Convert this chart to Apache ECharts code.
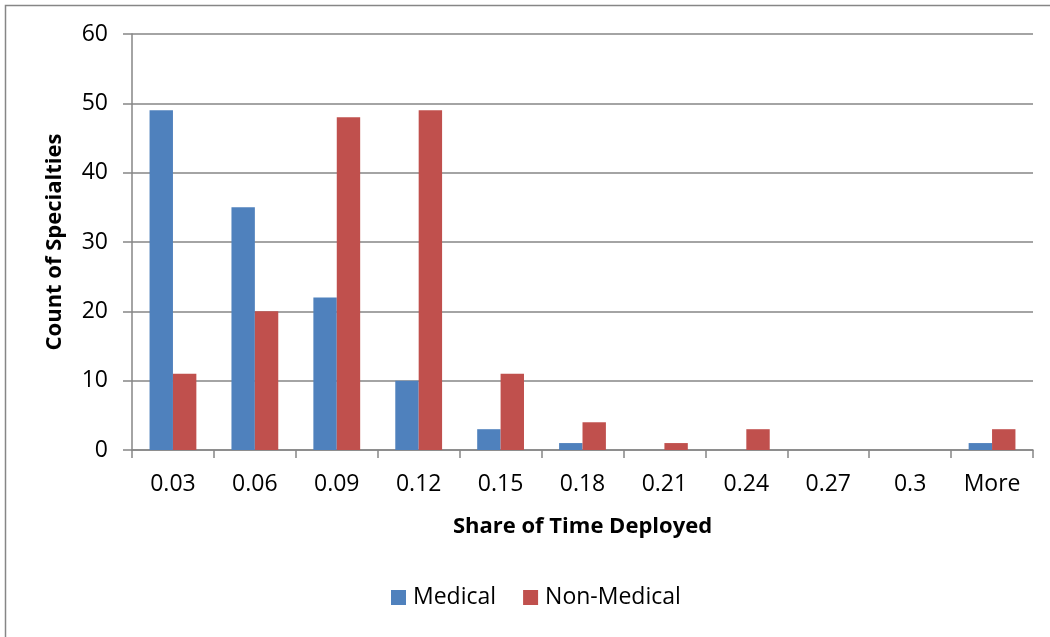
<!DOCTYPE html>
<html>
<head>
<meta charset="utf-8">
<script src="https://cdn.jsdelivr.net/npm/echarts@6/dist/echarts.min.js"></script>
<style>
html,body{margin:0;padding:0;background:#fff;}
#chart{width:1050px;height:637px;}
</style>
</head>
<body>
<div id="chart"></div>
<script>
const categories = ['0.03','0.06','0.09','0.12','0.15','0.18','0.21','0.24','0.27','0.3','More'];
const medical = [49, 35, 22, 10, 3, 1, 0, 0, 0, 0, 1];
const nonMedical = [11, 20, 48, 49, 11, 4, 1, 3, 0, 0, 3];
const yTicks = { min: 0, max: 60, interval: 10 };
const xTitle = 'Share of Time Deployed';
const yTitle = 'Count of Specialties';

const FONT = '"Open Sans", "Noto Sans", sans-serif';
const chart = echarts.init(document.getElementById('chart'), null, {renderer: 'canvas'});
chart.setOption({
  animation: false,
  backgroundColor: '#fff',
  textStyle: { fontFamily: FONT },
  graphic: [{
    type: 'rect',
    shape: { x: 5.5, y: 5.5, width: 1200, height: 800 },
    style: { fill: 'none', stroke: '#868686', lineWidth: 1.5 },
    silent: true
  }],
  grid: { left: 132, right: 17, top: 34, bottom: 187, containLabel: false },
  legend: {
    left: 391, top: 586, padding: 0,
    itemWidth: 15, itemHeight: 15, itemGap: 27,
    icon: 'rect',
    textStyle: { fontSize: 23, color: '#000', fontFamily: FONT, padding: [0, 0, 0, 2] },
    data: ['Medical', 'Non-Medical']
  },
  xAxis: {
    type: 'category',
    data: categories,
    name: xTitle,
    nameLocation: 'middle',
    nameGap: 66,
    nameTextStyle: { fontSize: 22, fontWeight: 'bold', color: '#000', fontFamily: FONT },
    axisLine: { lineStyle: { color: '#868686', width: 1.5 } },
    axisTick: { show: true, alignWithLabel: false, length: 8, lineStyle: { color: '#868686', width: 1.5 } },
    axisLabel: { fontSize: 23, color: '#000', margin: 23, fontFamily: FONT }
  },
  yAxis: {
    type: 'value',
    min: yTicks.min, max: yTicks.max, interval: yTicks.interval,
    name: yTitle,
    nameLocation: 'middle',
    nameGap: 66,
    nameRotate: 90,
    nameTextStyle: { fontSize: 22, fontWeight: 'bold', color: '#000', fontFamily: FONT },
    axisLine: { show: true, lineStyle: { color: '#868686', width: 1.5 } },
    axisTick: { show: true, length: 9, lineStyle: { color: '#868686', width: 1.5 } },
    axisLabel: { fontSize: 23, color: '#000', margin: 24, fontFamily: FONT },
    splitLine: { lineStyle: { color: '#868686', width: 1.5 } }
  },
  series: [
    { name: 'Medical', type: 'bar', data: medical, barGap: '0%', barCategoryGap: '42.86%',
      itemStyle: { color: '#4F81BD' } },
    { name: 'Non-Medical', type: 'bar', data: nonMedical, barGap: '0%', barCategoryGap: '42.86%',
      itemStyle: { color: '#C0504D' } }
  ]
});
</script>
</body>
</html>
